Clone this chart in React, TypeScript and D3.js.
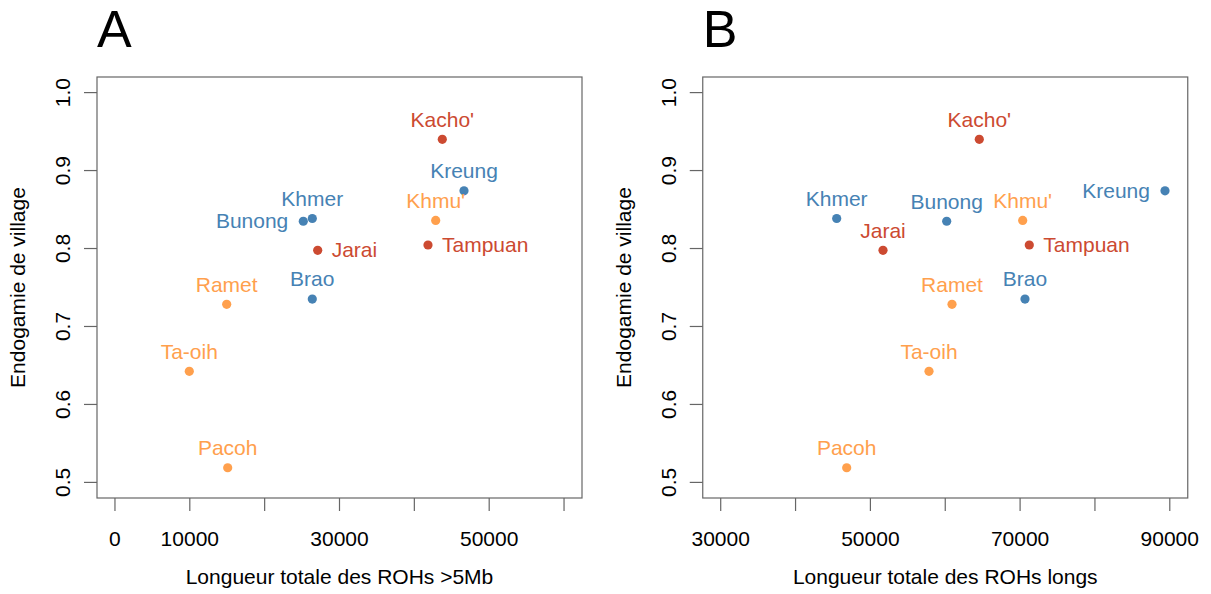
import React from "react";
import * as d3 from "d3";

// ---- data ----
const populations = ["Kacho'", "Kreung", "Khmu'", "Tampuan", "Khmer", "Bunong", "Jarai", "Brao", "Ramet", "Ta-oih", "Pacoh"];
const groups = ["red", "blue", "orange", "red", "blue", "blue", "red", "blue", "orange", "orange", "orange"];
const endogamy = [0.940, 0.874, 0.836, 0.8045, 0.8385, 0.835, 0.7977, 0.7352, 0.7284, 0.6425, 0.5188];
const rohOver5Mb = [43735, 46634, 42853, 41824, 26366, 25163, 27087, 26366, 14929, 9932, 15063];
const rohLong = [64549, 89360, 70348, 71230, 45497, 60194, 51683, 70655, 60902, 57829, 46833];

const yTicks = [0.5, 0.6, 0.7, 0.8, 0.9, 1.0];
const xTicksA = [0, 10000, 20000, 30000, 40000, 50000, 60000];
const xTickLabelsA = ["0", "10000", "", "30000", "", "50000", ""];
const xTicksB = [30000, 40000, 50000, 60000, 70000, 80000, 90000];
const xTickLabelsB = ["30000", "", "50000", "", "70000", "", "90000"];

// label placement (t = above, r = right, l = left)
const placeA = ["t", "t", "t", "r", "t", "l", "r", "t", "t", "t", "t"];
const placeB = ["t", "l", "t", "r", "t", "t", "t", "t", "t", "t", "t"];

const colors: Record<string, string> = {
  red: "#CC4A31",
  blue: "#4682B4",
  orange: "#FFA04D",
};

const FONT = "'Liberation Sans', Arial, sans-serif";
const FS = 21;

function Panel({ offsetX, letter, xs, xDomain, xTicks, xTickLabels, xLabel, place }: any) {
  const left = offsetX + 97;
  const right = offsetX + 582;
  const top = 77;
  const bottom = 498;
  const [x0, x1] = xDomain;
  const xr = x1 - x0;
  const x = d3.scaleLinear().domain([x0 - 0.04 * xr, x1 + 0.04 * xr]).range([left, right]);
  const y = d3.scaleLinear().domain([0.48, 1.02]).range([bottom, top]);
  const axisColor = "#666";
  return (
    <g fontFamily={FONT}>
      <text x={left} y={47} fontSize={52} fill="#000">{letter}</text>
      <rect x={left} y={top} width={right - left} height={bottom - top} fill="none" stroke={axisColor} strokeWidth={1.2} />
      {yTicks.map((t) => (
        <g key={"y" + t}>
          <line x1={left - 13} x2={left} y1={y(t)} y2={y(t)} stroke={axisColor} strokeWidth={1.2} />
          <text
            transform={`translate(${left - 27},${y(t)}) rotate(-90)`}
            textAnchor="middle"
            fontSize={FS}
            fill="#000"
          >
            {t.toFixed(1)}
          </text>
        </g>
      ))}
      {xTicks.map((t: number, i: number) => (
        <g key={"x" + t}>
          <line x1={x(t)} x2={x(t)} y1={bottom} y2={bottom + 13} stroke={axisColor} strokeWidth={1.2} />
          {xTickLabels[i] ? (
            <text x={x(t)} y={545.5} textAnchor="middle" fontSize={FS} fill="#000">
              {xTickLabels[i]}
            </text>
          ) : null}
        </g>
      ))}
      <text x={(left + right) / 2} y={584} textAnchor="middle" fontSize={FS} fill="#000">
        {xLabel}
      </text>
      <text
        transform={`translate(${offsetX + 25},${(top + bottom) / 2}) rotate(-90)`}
        textAnchor="middle"
        fontSize={FS}
        fill="#000"
      >
        Endogamie de village
      </text>
      {populations.map((p, i) => {
        const cx = x(xs[i]);
        const cy = y(endogamy[i]);
        const c = colors[groups[i]];
        const pl = place[i];
        let tx = cx, ty = cy - 12.6, anchor = "middle";
        if (pl === "r") { tx = cx + 14; ty = cy + 7; anchor = "start"; }
        if (pl === "l") { tx = cx - 15; ty = cy + 7; anchor = "end"; }
        return (
          <g key={p}>
            <circle cx={cx} cy={cy} r={4.6} fill={c} />
            <text x={tx} y={ty} textAnchor={anchor} fontSize={FS} fill={c}>{p}</text>
          </g>
        );
      })}
    </g>
  );
}

export default function App() {
  return (
    <svg
      width={1211}
      height={594}
      style={{ position: "absolute", left: 0, top: 0, background: "#fff" }}
    >
      <rect width={1211} height={594} fill="#fff" />
      <Panel
        offsetX={0}
        letter="A"
        xs={rohOver5Mb}
        xDomain={[0, 60000]}
        xTicks={xTicksA}
        xTickLabels={xTickLabelsA}
        xLabel="Longueur totale des ROHs >5Mb"
        place={placeA}
      />
      <Panel
        offsetX={605.75}
        letter="B"
        xs={rohLong}
        xDomain={[30000, 90000]}
        xTicks={xTicksB}
        xTickLabels={xTickLabelsB}
        xLabel="Longueur totale des ROHs longs"
        place={placeB}
      />
    </svg>
  );
}
